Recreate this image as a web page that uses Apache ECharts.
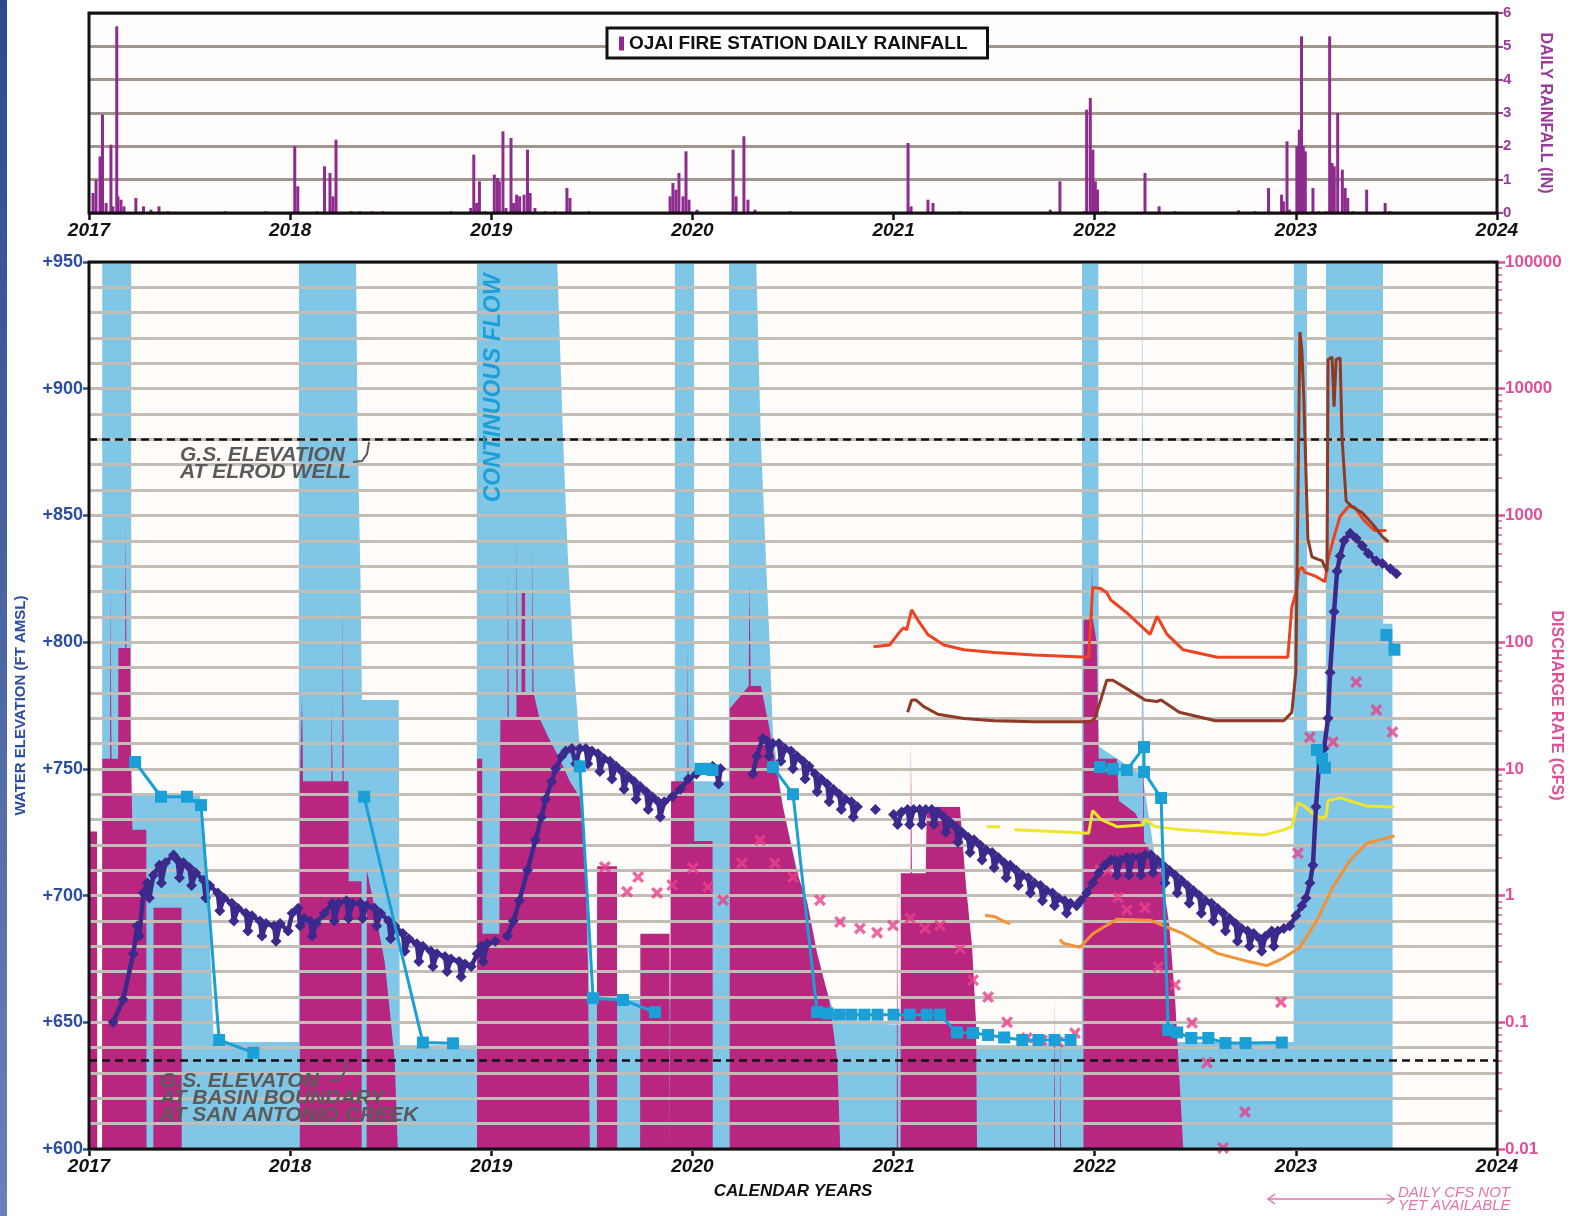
<!DOCTYPE html>
<html><head><meta charset="utf-8">
<script src="https://cdn.jsdelivr.net/npm/echarts@6/dist/echarts.min.js"></script>
<style>html,body{margin:0;padding:0;background:#fff}#c{width:1571px;height:1216px}</style>
</head><body><div id="c"></div>
<script>
// ---------------- DATA ----------------
const GS_ELROD = 880;   // ft, dashed reference
const GS_BASIN = 635;   // ft, dashed reference

// Ojai Fire Station daily rainfall [decimal year, inches]
const RAIN = [
[2017.020,0.6],[2017.035,1.0],[2017.055,1.7],[2017.067,2.95],[2017.085,0.3],[2017.109,2.05],[2017.119,0.2],[2017.138,5.6],[2017.144,0.5],[2017.159,0.4],[2017.174,0.2],[2017.233,0.45],[2017.271,0.2],[2017.308,0.1],[2017.348,0.2],[2017.393,0.05],[2017.676,0.05],[2017.880,0.05],
[2018.023,2.0],[2018.038,0.8],[2018.134,0.05],[2018.171,1.4],[2018.198,1.2],[2018.213,0.5],[2018.228,2.2],[2018.303,0.05],[2018.347,0.05],[2018.407,0.05],[2018.462,0.05],[2018.800,0.05],
[2018.898,0.15],[2018.913,1.75],[2018.927,0.3],[2018.941,0.95],[2018.969,0.05],[2019.015,1.15],[2019.031,1.05],[2019.040,0.95],[2019.058,2.45],[2019.073,0.15],[2019.098,2.25],[2019.111,0.3],[2019.126,0.55],[2019.141,0.5],[2019.163,0.55],[2019.180,1.9],[2019.193,0.6],[2019.217,0.15],[2019.267,0.05],[2019.317,0.05],[2019.376,0.75],[2019.391,0.45],[2019.486,0.05],
[2019.889,0.5],[2019.903,0.9],[2019.918,0.7],[2019.933,1.2],[2019.953,0.5],[2019.968,1.85],[2019.983,0.4],[2020.023,0.1],[2020.202,1.9],[2020.217,0.5],[2020.256,2.3],[2020.276,0.4],[2020.311,0.1],[2020.485,0.05],
[2021.072,2.1],[2021.087,0.2],[2021.171,0.4],[2021.196,0.3],[2021.330,0.05],
[2021.779,0.1],[2021.827,0.95],[2021.949,0.05],[2021.960,3.1],[2021.978,3.45],[2021.991,1.9],[2022.003,0.95],[2022.014,0.7],[2022.054,0.05],[2022.250,1.2],[2022.320,0.2],[2022.398,0.05],
[2022.715,0.08],[2022.797,0.05],[2022.864,0.75],[2022.929,0.55],[2022.938,0.35],[2022.956,2.15],[2022.968,0.1],[2023.005,2.0],[2023.017,2.5],[2023.028,5.3],[2023.037,2.0],[2023.047,1.85],[2023.085,0.75],[2023.113,0.05],[2023.150,0.05],[2023.168,5.3],[2023.180,1.5],[2023.191,1.4],[2023.208,3.0],[2023.231,1.3],[2023.245,0.75],[2023.258,0.45],[2023.285,0.05],[2023.352,0.7],[2023.444,0.3],[2023.466,0.05]
];

// Flow (light blue) [year, cfs]; 1e6 = beyond top of axis
const FLOW_BLUE = [
[2017.000,0.01],[2017.065,0.01],[2017.066,1e6],[2017.209,1e6],[2017.21,6.3],[2017.55,6.3],[2017.575,3],[2017.60,0.5],[2017.62,0.07],[2018.043,0.07],[2018.044,1e6],[2018.322,1e6],[2018.335,5000],[2018.35,300],[2018.357,35],[2018.54,35],[2018.545,0.066],[2018.928,0.066],[2018.929,1e6],[2019.307,1e6],[2019.357,4000],[2019.38,500],[2019.406,87],[2019.44,14],[2019.47,2],[2019.49,0.15],[2019.912,0.15],[2019.913,1e6],[2020.008,1e6],[2020.009,8],[2020.181,8],[2020.182,1e6],[2020.301,1e6],[2020.34,4000],[2020.385,87],[2020.40,19],[2020.45,5],[2020.55,1],[2020.62,0.3],[2020.72,0.1],[2021.07,0.095],[2021.08,0.066],[2021.936,0.066],[2021.937,1e6],[2022.017,1e6],[2022.02,15],[2022.234,9],[2022.235,1e6],[2022.241,1e6],[2022.242,8],[2022.30,2],[2022.36,0.3],[2022.40,0.07],[2022.989,0.07],[2022.99,1e6],[2023.055,1e6],[2023.056,20],[2023.149,20],[2023.15,1e6],[2023.433,1e6],[2023.434,140],[2023.48,140],[2023.481,0.01],[2024.0,0.01]
];

// Daily discharge (magenta) [year, cfs]
const FLOW_DAILY = [
[2017.000,3.2],[2017.040,3.2],[2017.041,0.01],[2017.065,0.01],[2017.066,12],[2017.105,12],[2017.106,280],[2017.111,280],[2017.112,12],[2017.145,12],[2017.146,90],[2017.180,90],[2017.181,850],[2017.185,850],[2017.186,90],[2017.205,90],[2017.206,21],[2017.215,21],[2017.216,3.3],[2017.285,3.3],[2017.286,0.01],[2017.32,0.01],[2017.321,0.8],[2017.46,0.8],[2017.461,0.01],
[2018.048,0.01],[2018.049,8],[2018.058,8],[2018.059,37],[2018.063,37],[2018.064,8],[2018.205,8],[2018.206,33],[2018.21,33],[2018.211,8],[2018.26,8],[2018.261,210],[2018.265,210],[2018.266,8],[2018.29,8],[2018.291,1.3],[2018.355,1.3],[2018.356,0.01],[2018.38,0.01],[2018.381,1.6],[2018.42,0.8],[2018.47,0.3],[2018.49,0.15],[2018.52,0.05],[2018.535,0.01],
[2018.929,0.01],[2018.93,12],[2018.955,12],[2018.956,0.5],[2019.04,0.5],[2019.045,25],[2019.081,25],[2019.082,385],[2019.086,385],[2019.087,25],[2019.125,25],[2019.126,690],[2019.13,690],[2019.131,40],[2019.15,40],[2019.151,245],[2019.168,245],[2019.169,40],[2019.204,40],[2019.205,600],[2019.209,600],[2019.21,40],[2019.24,25],[2019.29,17],[2019.34,12],[2019.39,8],[2019.44,6],[2019.466,2.3],[2019.48,0.3],[2019.49,0.01],
[2019.525,0.01],[2019.526,1.7],[2019.625,1.7],[2019.626,0.01],[2019.74,0.01],[2019.741,0.5],[2019.886,0.5],[2019.887,0.01],[2019.893,0.01],[2019.894,8],[2019.975,8],[2019.976,92],[2019.98,92],[2019.981,8],[2020.008,8],[2020.009,2.7],[2020.10,2.7],[2020.101,0.01],[2020.185,0.01],[2020.186,30],[2020.28,45],[2020.283,316],[2020.287,316],[2020.29,45],[2020.34,45],[2020.38,22],[2020.45,5],[2020.52,1.5],[2020.57,0.9],[2020.62,0.35],[2020.68,0.15],[2020.72,0.05],[2020.735,0.01],
[2021.016,0.01],[2021.017,2.3],[2021.021,2.3],[2021.022,0.01],[2021.035,0.01],[2021.036,1.5],[2021.085,1.5],[2021.086,17],[2021.09,17],[2021.091,1.5],[2021.16,1.5],[2021.165,5],[2021.33,5],[2021.36,1.2],[2021.39,0.4],[2021.41,0.1],[2021.415,0.01],
[2021.798,0.01],[2021.799,0.17],[2021.802,0.17],[2021.803,0.01],[2021.828,0.01],[2021.829,0.1],[2021.832,0.1],[2021.833,0.01],
[2021.944,0.01],[2021.945,150],[2021.985,150],[2021.986,460],[2021.99,460],[2021.991,150],[2022.01,100],[2022.02,12],[2022.11,12],[2022.12,5.6],[2022.2,4.5],[2022.24,3.5],[2022.241,42],[2022.244,42],[2022.245,2.7],[2022.33,1.6],[2022.37,0.6],[2022.40,0.15],[2022.43,0.02],[2022.44,0.01],[2024,0.01]
];

// Stream gauges [year, cfs]
const Q_RED = [[2020.9,92],[2020.98,95],[2021.03,120],[2021.05,130],[2021.065,125],[2021.09,180],[2021.12,150],[2021.17,115],[2021.25,95],[2021.35,87],[2021.5,83],[2021.7,79],[2021.97,76],[2021.99,270],[2022.03,265],[2022.06,245],[2022.08,215],[2022.16,170],[2022.275,115],[2022.31,160],[2022.36,115],[2022.44,87],[2022.61,76],[2022.96,76],[2022.98,190],[2023.0,245],[2023.015,370],[2023.03,390],[2023.045,355],[2023.10,330],[2023.145,300],[2023.16,450],[2023.19,680],[2023.22,980],[2023.26,1170],[2023.29,1170],[2023.34,910],[2023.39,760],[2023.45,760]];
const Q_BROWN = [[2021.07,28],[2021.09,35],[2021.11,35],[2021.15,31],[2021.22,27],[2021.35,25],[2021.5,24],[2021.7,23.5],[2021.98,23.5],[2022.0,25],[2022.03,35],[2022.06,50],[2022.09,50],[2022.17,42],[2022.25,35],[2022.31,34],[2022.33,35],[2022.42,28],[2022.6,24],[2022.94,24],[2022.98,28],[2023.0,58],[2023.02,28000],[2023.03,20000],[2023.04,8000],[2023.06,650],[2023.08,470],[2023.11,450],[2023.13,440],[2023.155,360],[2023.16,17000],[2023.18,17800],[2023.19,7200],[2023.20,17000],[2023.22,17500],[2023.23,4000],[2023.25,1300],[2023.28,1170],[2023.33,1050],[2023.38,860],[2023.43,680],[2023.46,620]];
const Q_YELLOW = [[2021.465,3.5],[2021.53,3.5],[2021.55,null],[2021.6,3.3],[2021.8,3.2],[2021.97,3.1],[2021.99,4.7],[2022.03,4.0],[2022.11,3.5],[2022.24,3.6],[2022.25,4.0],[2022.3,3.5],[2022.44,3.3],[2022.69,3.1],[2022.84,3.0],[2022.94,3.3],[2022.98,3.5],[2023.01,5.4],[2023.04,5.1],[2023.08,4.5],[2023.12,4.1],[2023.15,4.2],[2023.16,5.6],[2023.22,5.9],[2023.35,5.1],[2023.49,5.0]];
const Q_ORANGE = [[2021.455,0.70],[2021.505,0.68],[2021.554,0.62],[2021.58,0.6],[2021.7,null],[2021.827,0.45],[2021.843,0.42],[2021.927,0.39],[2021.99,0.50],[2022.11,0.65],[2022.275,0.64],[2022.44,0.50],[2022.61,0.35],[2022.77,0.30],[2022.856,0.28],[2022.936,0.32],[2023.02,0.39],[2023.105,0.64],[2023.185,1.17],[2023.27,1.9],[2023.354,2.6],[2023.433,2.8],[2023.49,2.95]];
const Q_MEASURED = [[2019.565,1.68],[2019.675,1.07],[2019.73,1.4],[2019.824,1.05],[2019.90,1.21],[2020.003,1.65],[2020.077,1.17],[2020.152,0.92],[2020.246,1.8],[2020.336,2.74],[2020.41,1.8],[2020.50,1.4],[2020.634,0.92],[2020.734,0.62],[2020.833,0.55],[2020.918,0.51],[2020.997,0.58],[2021.082,0.66],[2021.156,0.55],[2021.231,0.58],[2021.33,0.38],[2021.395,0.215],[2021.47,0.158],[2021.564,0.100],[2021.663,0.075],[2021.738,0.072],[2021.818,0.070],[2021.902,0.082],[2022.026,1.59],[2022.066,1.59],[2022.116,0.97],[2022.16,0.77],[2022.25,0.80],[2022.315,0.273],[2022.40,0.197],[2022.484,0.099],[2022.558,0.048],[2022.638,0.0102],[2022.747,0.0196],[2022.926,0.144],[2023.01,2.16],[2023.07,17.8],[2023.185,16.3],[2023.30,48.4],[2023.40,29.1],[2023.48,19.5]];

// Elrod well water elevation [year, ft]
const WELL_ELEV = [
[2017.12,650],[2017.17,659],[2017.22,677],[2017.24,688],[2017.25,684],[2017.27,701],[2017.29,705],[2017.30,699],[2017.32,708],[2017.35,712],[2017.36,705],[2017.38,713],[2017.42,716],[2017.44,714],[2017.45,707],[2017.47,713],[2017.50,711],[2017.51,704],[2017.53,709],[2017.57,706],[2017.58,699],[2017.60,704],[2017.64,701],[2017.65,694],[2017.67,699],[2017.71,697],[2017.72,690],[2017.74,695],[2017.78,693],[2017.79,686],[2017.81,692],[2017.85,690],[2017.86,684],[2017.88,689],[2017.92,688],[2017.93,682],[2017.95,689],[2017.99,686],[2018.01,693],[2018.04,695],[2018.05,688],[2018.07,691],[2018.10,690],[2018.11,684],[2018.13,689],[2018.17,693],[2018.21,697],[2018.22,690],[2018.24,697],[2018.28,698],[2018.29,691],[2018.31,697],[2018.35,697],[2018.36,691],[2018.38,696],[2018.42,695],[2018.43,688],[2018.45,693],[2018.49,690],[2018.50,683],[2018.52,688],[2018.56,685],[2018.57,678],[2018.59,683],[2018.63,681],[2018.64,674],[2018.66,680],[2018.70,678],[2018.71,672],[2018.73,677],[2018.77,676],[2018.78,670],[2018.80,675],[2018.84,674],[2018.85,668],[2018.87,673],[2018.90,672],[2018.93,677],[2018.95,680],[2018.96,674],[2018.98,681],[2019.02,682],[2019.05,null],
[2019.08,684],[2019.11,690],[2019.14,698],[2019.18,710],[2019.22,722],[2019.25,731],[2019.27,738],[2019.30,745],[2019.32,750],[2019.35,755],[2019.37,757],[2019.40,758],[2019.42,752],[2019.44,758],[2019.47,758],[2019.48,752],[2019.50,757],[2019.53,756],[2019.54,749],[2019.56,754],[2019.59,753],[2019.60,746],[2019.62,751],[2019.65,749],[2019.66,742],[2019.68,747],[2019.71,745],[2019.72,738],[2019.74,743],[2019.77,741],[2019.78,734],[2019.80,739],[2019.83,737],[2019.84,731],[2019.86,737],[2019.90,739],[2019.94,742],[2019.98,746],[2020.02,748],[2020.06,750],[2020.10,751],[2020.12,749],[2020.13,744],[2020.14,750],[2020.2,null],
[2020.30,748],[2020.32,755],[2020.35,762],[2020.37,761],[2020.38,755],[2020.40,760],[2020.43,760],[2020.44,753],[2020.46,758],[2020.49,757],[2020.50,750],[2020.52,755],[2020.55,753],[2020.56,746],[2020.58,751],[2020.61,748],[2020.62,741],[2020.64,746],[2020.67,744],[2020.68,737],[2020.70,742],[2020.73,740],[2020.74,734],[2020.76,738],[2020.79,737],[2020.80,731],[2020.82,735],[2020.86,null],[2020.91,734],[2020.95,null],
[2021.0,732],[2021.02,728],[2021.04,733],[2021.07,734],[2021.08,728],[2021.10,734],[2021.13,734],[2021.14,728],[2021.16,734],[2021.19,734],[2021.20,728],[2021.22,733],[2021.25,731],[2021.26,725],[2021.28,729],[2021.31,727],[2021.32,721],[2021.34,725],[2021.37,723],[2021.38,717],[2021.40,722],[2021.43,720],[2021.44,714],[2021.46,718],[2021.49,717],[2021.50,711],[2021.52,715],[2021.55,713],[2021.56,707],[2021.58,712],[2021.61,710],[2021.62,704],[2021.64,708],[2021.67,707],[2021.68,701],[2021.70,705],[2021.73,704],[2021.74,698],[2021.76,702],[2021.79,701],[2021.80,696],[2021.82,699],[2021.85,698],[2021.86,693],[2021.88,697],[2021.91,696],[2021.93,698],[2021.96,701],[2021.99,705],[2022.02,709],[2022.05,712],[2022.08,714],[2022.10,714],[2022.11,708],[2022.13,714],[2022.16,715],[2022.17,708],[2022.19,715],[2022.22,715],[2022.23,708],[2022.25,716],[2022.28,716],[2022.29,709],[2022.31,714],[2022.34,712],[2022.35,705],[2022.37,710],[2022.40,708],[2022.41,701],[2022.43,706],[2022.46,704],[2022.47,697],[2022.49,702],[2022.52,700],[2022.53,693],[2022.55,698],[2022.58,697],[2022.59,690],[2022.61,695],[2022.64,693],[2022.65,686],[2022.67,691],[2022.70,689],[2022.71,682],[2022.73,687],[2022.76,686],[2022.77,680],[2022.79,685],[2022.82,683],[2022.83,678],[2022.85,684],[2022.88,686],[2022.89,680],[2022.91,686],[2022.94,687],[2022.97,688],[2023.00,692],[2023.03,696],[2023.05,699],[2023.07,705],[2023.085,712],[2023.10,735],[2023.12,757],[2023.14,758],[2023.16,770],[2023.17,788],[2023.19,812],[2023.205,828],[2023.22,834],[2023.24,840],[2023.27,843],[2023.30,841],[2023.33,838],[2023.36,835],[2023.40,832],[2023.43,831],[2023.47,829],[2023.50,827]
];

// Second well (cyan squares) [year, ft]
const WELL2_ELEV = [
[2017.229,752.7],[2017.358,739],[2017.487,739],[2017.557,735.7],[2017.647,643],[2017.817,638],[2018.0,null],
[2018.368,739],[2018.66,642],[2018.81,641.7],[2019.0,null],
[2019.44,751],[2019.506,659.5],[2019.655,658.8],[2019.814,654],[2019.9,null],
[2020.04,750],[2020.07,750],[2020.10,749.5],[2020.2,null],
[2020.40,750.7],[2020.50,740],[2020.62,654],[2020.67,653.5],[2020.73,653],[2020.79,653],[2020.855,653],[2020.92,653],[2021.0,653],[2021.08,653],[2021.165,653],[2021.23,653],[2021.315,646],[2021.395,645.8],[2021.47,645],[2021.55,644],[2021.64,643],[2021.72,643],[2021.80,643],[2021.88,643],[2021.95,null],
[2022.026,750.7],[2022.09,750],[2022.16,749.5],[2022.245,758.6],[2022.245,748.8],[2022.33,738.5],[2022.365,647],[2022.41,646],[2022.48,643.8],[2022.565,643.8],[2022.65,641.8],[2022.75,641.8],[2022.93,642],[2023.0,null],
[2023.105,757.5],[2023.13,754],[2023.145,750.4],[2023.3,null],
[2023.45,802.8],[2023.49,797]
];

const LOG_MINOR = [];
for (let d = -2; d < 5; d++) for (let k = 2; k <= 9; k++) LOG_MINOR.push(d + Math.log10(k));

// ---------------- CHART ----------------
const FONT = '"Liberation Sans", Arial, sans-serif';
const BLUE_TXT = '#2c4e9e', PINK_TXT = '#e0509a', PURPLE = '#8e2b8e';
const chart = echarts.init(document.getElementById('c'), null, {renderer: 'canvas'});
const xCommon = {type: 'value', min: 2017, max: 2024, interval: 1,
  axisLine: {show: false, onZero: false}, splitLine: {show: false},
  axisTick: {show: true, length: 7, inside: false, lineStyle: {color: '#111', width: 2.5}},
  axisLabel: {fontFamily: FONT, fontSize: 19, fontWeight: 'bold', fontStyle: 'italic', color: '#111', margin: 8, formatter: v => String(v)}};
const X_MARK = 'path://M0,2 L2,0 L5,3 L8,0 L10,2 L7,5 L10,8 L8,10 L5,7 L2,10 L0,8 L3,5 Z';
const lineS = (name, data, color, w) => ({name, type: 'line', xAxisIndex: 1, yAxisIndex: 2, data, symbol: 'none', z: 5,
  lineStyle: {color, width: w}, itemStyle: {color}});

const option = {
  animation: false,
  backgroundColor: '#ffffff',
  grid: [
    {left: 89, right: 74, top: 13, height: 200, show: true, backgroundColor: '#fffdfc', borderWidth: 0, outerBoundsMode: 'none', containLabel: false},
    {left: 89, right: 74, top: 262, height: 887, show: true, backgroundColor: '#fffcfa', borderWidth: 0, outerBoundsMode: 'none', containLabel: false}
  ],
  legend: {data: ['OJAI FIRE STATION DAILY RAINFALL'], left: 607, top: 28, selectedMode: false,
    borderColor: '#111', borderWidth: 3, padding: [6, 20, 5, 12], backgroundColor: '#fff',
    icon: 'rect', itemWidth: 5, itemHeight: 14, itemGap: 9,
    textStyle: {fontFamily: FONT, fontWeight: 'bold', fontSize: 19, color: '#111'}},
  xAxis: [
    Object.assign({gridIndex: 0}, xCommon),
    Object.assign({gridIndex: 1, name: 'CALENDAR YEARS', nameLocation: 'middle', nameGap: 34,
      nameTextStyle: {fontFamily: FONT, fontSize: 17, fontWeight: 'bold', fontStyle: 'italic', color: '#111'}}, xCommon)
  ],
  yAxis: [
    {gridIndex: 0, type: 'value', position: 'right', min: 0, max: 6, interval: 1,
      axisLine: {show: false, onZero: false}, axisTick: {show: true, length: 6, lineStyle: {color: '#9b3a9b', width: 2}},
      axisLabel: {fontFamily: FONT, color: '#9b3a9b', fontWeight: 'bold', fontSize: 15, margin: 6},
      splitLine: {show: true, lineStyle: {color: '#a0968e', width: 3}},
      name: 'DAILY RAINFALL (IN)', nameLocation: 'middle', nameRotate: -90, nameGap: 40, nameMoveOverlap: false,
      nameTextStyle: {fontFamily: FONT, color: '#9b3a9b', fontWeight: 'bold', fontSize: 16}},
    {gridIndex: 1, type: 'value', position: 'left', min: 600, max: 950, interval: 50, z: 3,
      axisLine: {show: false, onZero: false},
      axisTick: {show: true, length: 6, lineStyle: {color: BLUE_TXT, width: 2.5}},
      axisLabel: {fontFamily: FONT, color: BLUE_TXT, fontWeight: 'bold', fontSize: 18, margin: 6, formatter: v => '+' + v},
      splitLine: {show: true, lineStyle: {color: '#c3bdb7', width: 3}},
      minorTick: {show: false, splitNumber: 5},
      minorSplitLine: {show: true, lineStyle: {color: '#c3bdb7', width: 3}},
      name: 'WATER ELEVATION (FT AMSL)', nameLocation: 'middle', nameRotate: 90, nameGap: 61, nameMoveOverlap: false,
      nameTextStyle: {fontFamily: FONT, color: BLUE_TXT, fontWeight: 'bold', fontSize: 15}},
    {gridIndex: 1, type: 'log', logBase: 10, min: 0.01, max: 100000, position: 'right', z: 3,
      axisLine: {show: false, onZero: false}, splitLine: {show: false},
      axisTick: {show: true, length: 8, lineStyle: {color: PINK_TXT, width: 2.5}},
      axisLabel: {fontFamily: FONT, color: PINK_TXT, fontWeight: 'bold', fontSize: 17, margin: 8,
        formatter: v => String(Number(Number(v).toPrecision(2)))},
      name: 'DISCHARGE RATE (CFS)', nameLocation: 'middle', nameRotate: -90, nameGap: 51, nameMoveOverlap: false,
      nameTextStyle: {fontFamily: FONT, color: PINK_TXT, fontWeight: 'bold', fontSize: 16}},
    {gridIndex: 1, type: 'value', min: -2, max: 5, position: 'right', z: 3,
      axisLine: {show: false, onZero: false}, splitLine: {show: false}, axisLabel: {show: false},
      axisTick: {show: true, length: 5, customValues: LOG_MINOR, lineStyle: {color: PINK_TXT, width: 1.5}}}
  ],
  series: [
    {name: 'OJAI FIRE STATION DAILY RAINFALL', type: 'bar', xAxisIndex: 0, yAxisIndex: 0, data: RAIN,
      barWidth: 3, itemStyle: {color: PURPLE}, z: 4},
    {name: 'flow', type: 'line', xAxisIndex: 1, yAxisIndex: 2, data: FLOW_BLUE, symbol: 'none', z: 1,
      lineStyle: {width: 0, opacity: 0}, areaStyle: {color: '#80c6e6', opacity: 1, origin: 'start'}},
    {name: 'daily', type: 'line', xAxisIndex: 1, yAxisIndex: 2, data: FLOW_DAILY, symbol: 'none', z: 1,
      lineStyle: {width: 0, opacity: 0}, areaStyle: {color: '#b9267f', opacity: 1, origin: 'start'}},
    lineS('orange', Q_ORANGE, '#f39233', 3),
    lineS('yellow', Q_YELLOW, '#f0e52a', 3),
    lineS('red', Q_RED, '#ee4321', 3),
    lineS('brown', Q_BROWN, '#8e3a26', 3),
    {name: 'measured', type: 'scatter', xAxisIndex: 1, yAxisIndex: 2, data: Q_MEASURED, z: 6,
      symbol: X_MARK, symbolSize: 12, itemStyle: {color: '#e8408a'}},
    {name: 'well', type: 'line', xAxisIndex: 1, yAxisIndex: 1, data: WELL_ELEV, z: 7,
      symbol: 'diamond', symbolSize: 11, showSymbol: true, showAllSymbol: true,
      lineStyle: {color: '#3b2a8c', width: 4.5}, itemStyle: {color: '#3b2a8c'}},
    {name: 'well2', type: 'line', xAxisIndex: 1, yAxisIndex: 1, data: WELL2_ELEV, z: 8,
      symbol: 'rect', symbolSize: 12, showAllSymbol: true,
      lineStyle: {color: '#1a9fd6', width: 3}, itemStyle: {color: '#1a9fd6'},
      markLine: {symbol: 'none', silent: true, label: {show: false}, animation: false,
        lineStyle: {type: [8, 5], color: '#111', width: 2.5},
        data: [{yAxis: GS_ELROD}, {yAxis: GS_BASIN}]}}
  ],
  graphic: [
    {type: 'rect', shape: {x: 0, y: 0, width: 7, height: 1216}, z: 100,
      style: {fill: new echarts.graphic.LinearGradient(0, 0, 0, 1, [{offset: 0, color: '#2c4a8e'}, {offset: 1, color: '#6a80b6'}])}},
    {type: 'rect', shape: {x: 89, y: 13, width: 1408, height: 200}, z: 100, style: {fill: 'none', stroke: '#111', lineWidth: 3}},
    {type: 'rect', shape: {x: 89, y: 262, width: 1408, height: 887}, z: 100, style: {fill: 'none', stroke: '#111', lineWidth: 3}},
    {type: 'text', x: 180, y: 447, z: 100, style: {text: 'G.S. ELEVATION\nAT ELROD WELL', fill: '#5a5a5a', font: 'italic bold 21px "Liberation Sans", Arial', lineHeight: 17}},
    {type: 'polyline', z: 100, shape: {points: [[353, 462], [362, 461], [367, 454], [369, 442]]}, style: {stroke: '#5a5a5a', lineWidth: 2, fill: 'none'}},
    {type: 'text', x: 160, y: 1073, z: 100, style: {text: 'G.S. ELEVATON\nAT BASIN BOUNDARY\nAT SAN ANTONIO CREEK', fill: '#5a5a5a', font: 'italic bold 21px "Liberation Sans", Arial', lineHeight: 17}},
    {type: 'polyline', z: 100, shape: {points: [[330, 1081], [339, 1080], [344, 1073], [346, 1062]]}, style: {stroke: '#5a5a5a', lineWidth: 2, fill: 'none'}},
    {type: 'text', x: 494, y: 388, rotation: Math.PI / 2, z: 100, style: {text: 'CONTINUOUS FLOW', align: 'center', verticalAlign: 'middle', fill: '#1da0d8', font: 'italic bold 23px "Liberation Sans", Arial'}},
    {type: 'text', x: 1398, y: 1186, z: 100, style: {text: 'DAILY CFS NOT\nYET AVAILABLE', fill: '#e274ad', font: 'italic 15px "Liberation Sans", Arial', lineHeight: 13}},
    {type: 'line', z: 100, shape: {x1: 1268, y1: 1199, x2: 1394, y2: 1199}, style: {stroke: '#e274ad', lineWidth: 1.5}},
    {type: 'polyline', z: 100, shape: {points: [[1275, 1194], [1268, 1199], [1275, 1204]]}, style: {stroke: '#e274ad', lineWidth: 1.5, fill: 'none'}},
    {type: 'polyline', z: 100, shape: {points: [[1387, 1194], [1394, 1199], [1387, 1204]]}, style: {stroke: '#e274ad', lineWidth: 1.5, fill: 'none'}}
  ]
};
chart.setOption(option);
</script></body></html>
